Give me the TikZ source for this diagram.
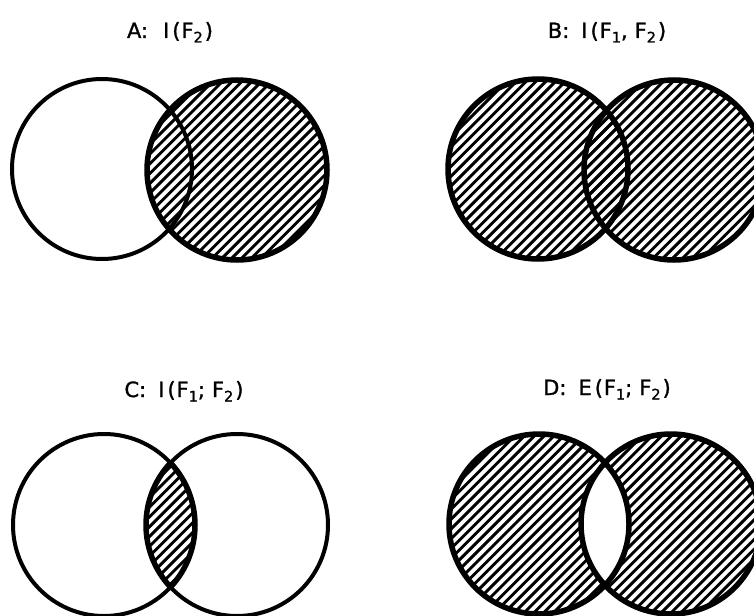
\documentclass[tikz,border=0pt]{standalone}
\usepackage{fontspec}
\setmainfont{DejaVu Sans}
\newfontfamily\titlefont[FakeBold=1.3]{DejaVu Sans}
\newcommand\hatchall{\foreach \c in {0,9.8,...,1400}{\draw[hatchline] ({\c-640},640) -- ({\c+20},-20);}}
\newcommand\sbs[1]{\raisebox{-4.5pt}{\fontsize{14.5}{16}\selectfont #1}}
\begin{document}
\begin{tikzpicture}[x=1pt,y=-1pt,
  circthin/.style={line width=4pt},
  circthick/.style={line width=5.5pt},
  hatchline/.style={line width=2.9pt},
  title/.style={font=\titlefont\fontsize{21}{25}\selectfont, anchor=base, inner sep=0pt}]
\useasboundingbox (0,0) rectangle (754,615);
% centres
\coordinate (A1) at (102,169); \coordinate (A2) at (237,170);
\coordinate (B1) at (538,169); \coordinate (B2) at (674,170);
\coordinate (C1) at (104,525); \coordinate (C2) at (237,525);
\coordinate (D1) at (539,524); \coordinate (D2) at (671,524);
% titles
\node[title] (tA) at (170,38) {A:\hspace{15pt}I\hspace{3pt}(\hspace{1pt}F\sbs{2}\hspace{2pt})};
\node[title] (tB) at (607,38) {B:\hspace{12pt}I\hspace{3pt}(\hspace{1pt}F\sbs{1},\hspace{7pt}F\sbs{2}\hspace{2pt})};
\node[title] (tC) at (184,397) {C:\hspace{12pt}I\hspace{3pt}(\hspace{1pt}F\sbs{1};\hspace{7pt}F\sbs{2}\hspace{2pt})};
\node[title] (tD) at (607,395) {D:\hspace{12pt}E\hspace{3pt}(\hspace{1pt}F\sbs{1};\hspace{7pt}F\sbs{2}\hspace{2pt})};
% A
\begin{scope}\clip (A2) circle (90); \hatchall\end{scope}
\draw[circthin] (A1) circle (90);
\draw[circthick] (A2) circle (90);
% B
\begin{scope}\clip (B1) circle (90); \hatchall\end{scope}
\begin{scope}\clip (B2) circle (90); \hatchall\end{scope}
\draw[circthick] (B1) circle (90);
\draw[circthick] (B2) circle (90);
% C
\begin{scope}\clip (C1) circle (91); \clip (C2) circle (91); \hatchall\end{scope}
\draw[circthin] (C1) circle (91);
\draw[circthin] (C2) circle (91);
\begin{scope}\clip (C1) circle (91); \draw[circthick] (C2) circle (91);\end{scope}
\begin{scope}\clip (C2) circle (91); \draw[circthick] (C1) circle (91);\end{scope}
% D
\begin{scope}\clip (D1) circle (90); \hatchall\end{scope}
\begin{scope}\clip (D2) circle (90); \hatchall\end{scope}
\begin{scope}\clip (D1) circle (90); \fill[white] (D2) circle (90);\end{scope}
\draw[circthick] (D1) circle (90);
\draw[circthick] (D2) circle (90);
\end{tikzpicture}
\end{document}
